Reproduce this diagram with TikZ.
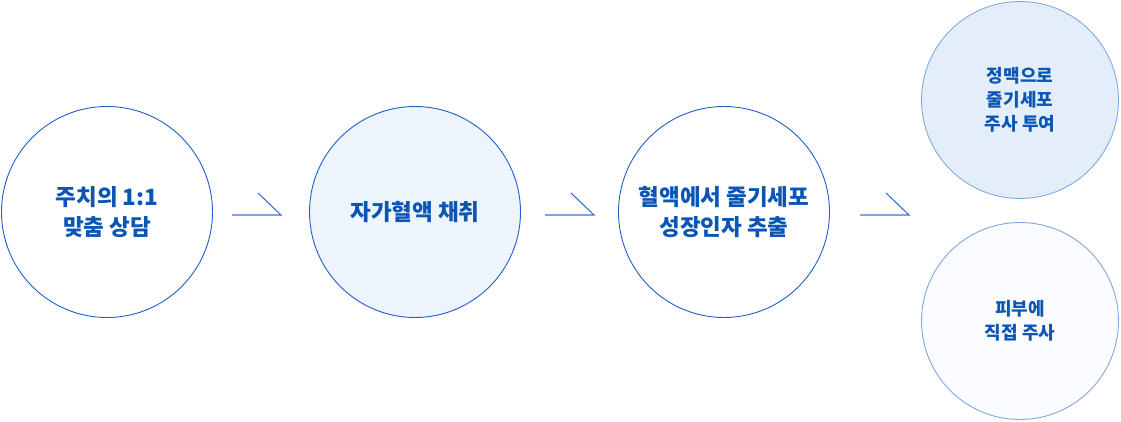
\documentclass[tikz,border=0pt]{standalone}
\usepackage{fontspec}
\setmainfont{Noto Sans CJK KR}[BoldFont={Noto Sans CJK KR Black}]
\usetikzlibrary{positioning}
\definecolor{ringblue}{HTML}{1F5FC8}
\definecolor{ringlight}{HTML}{80A8E2}
\definecolor{txtblue}{HTML}{0B55B5}
\definecolor{arrblue}{HTML}{3C70D8}
\definecolor{fillpale}{HTML}{EEF4FC}
\definecolor{fillsoft}{HTML}{E4EEFB}
\definecolor{fillwhite}{HTML}{FAFCFF}

\begin{document}
\begin{tikzpicture}[
    x=1pt, y=-1pt,
    stage/.style={circle, draw=ringblue, line width=0.9pt, minimum size=211pt, inner sep=0pt, align=center, text=txtblue, font=\fontsize{22.5}{29.5}\selectfont\bfseries},
    branch/.style={circle, draw=ringlight, line width=0.9pt, minimum size=197pt, inner sep=0pt, align=center, text=txtblue, font=\fontsize{18}{24}\selectfont\bfseries},
    halfarr/.style={draw=arrblue, line width=1.1pt, line join=miter}
]
\useasboundingbox (0,0) rectangle (1121,422);

\node[stage, fill=white] (consult) at (107,212) {주치의 1:1\\맞춤 상담};
\node[stage, fill=fillpale] (blood) at (415,212) {자가혈액 채취};
\node[stage, fill=white] (extract) at (724,212) {혈액에서 줄기세포\\성장인자 추출};
\node[branch, fill=fillsoft] (vein) at (1020,100) {정맥으로\\줄기세포\\주사 투여};
\node[branch, fill=fillwhite] (skin) at (1020,321) {피부에\\직접 주사};

\coordinate (a1) at (232,215);
\coordinate (a2) at (545,215);
\coordinate (a3) at (860,215);

\draw[halfarr] (a1) -- ++(49,0) -- ++(-23,-22);
\draw[halfarr] (a2) -- ++(49,0) -- ++(-23,-22);
\draw[halfarr] (a3) -- ++(49,0) -- ++(-23,-22);

\end{tikzpicture}
\end{document}
